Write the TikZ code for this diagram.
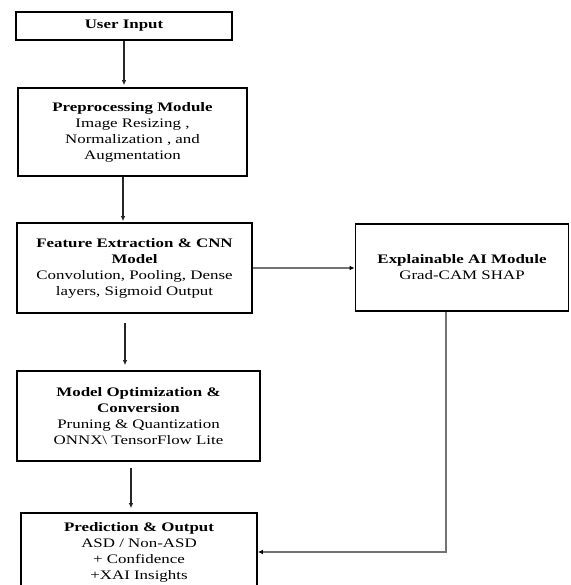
\documentclass[tikz,border=0pt]{standalone}
\usepackage{fontspec}
\setmainfont{Liberation Serif}[FakeStretch=1.3]
\usetikzlibrary{arrows.meta,calc}
\begin{document}
\begin{tikzpicture}[x=1pt,y=-1pt,
  box/.style={draw=black, line width=1.6pt, inner sep=0pt, align=center, font=\fontsize{13}{16}\selectfont},
  arr/.style={draw=black!85, line width=1.1pt, -{Latex[length=5pt,width=4.5pt]}},
  garr/.style={draw=black!55, line width=1.1pt, -{Latex[length=5pt,width=4.5pt,fill=black,color=black]}}]
\useasboundingbox (0,0) rectangle (570,585);
\clip (0,0) rectangle (570,585);
\fill[white] (0,0) rectangle (570,585);
\node[box, minimum width=216pt, minimum height=28pt] (u) at (124,26) {\textbf{User Input}};
\node[box, minimum width=229pt, minimum height=88pt] (p) at (132.5,132) {\textbf{Preprocessing Module}\\Image Resizing ,\\Normalization , and\\Augmentation};
\node[box, minimum width=235pt, minimum height=90pt] (f) at (134.5,268) {\textbf{Feature Extraction \& CNN}\\\textbf{Model}\\Convolution, Pooling, Dense\\layers, Sigmoid Output};
\node[box, minimum width=213pt, minimum height=87pt] (x) at (462,267.5) {\textbf{Explainable AI Module}\\Grad-CAM SHAP};
\node[box, minimum width=243pt, minimum height=90pt] (m) at (138.5,416) {\textbf{Model Optimization \&}\\\textbf{Conversion}\\Pruning \& Quantization\\ONNX\textbackslash{} TensorFlow Lite};
\node[box, minimum width=236pt, minimum height=78pt] (o) at (139,552) {\textbf{Prediction \& Output}\\ASD / Non-ASD\\+ Confidence\\+XAI Insights};
\draw[arr, shorten >=2pt] (u.south) -- (u.south |- p.north);
\draw[arr, shorten >=1pt] ($(p.south)+(-9.5,0)$) -- ($(f.north)+(-11.5,0)$);
\draw[arr, shorten <=9pt, shorten >=5pt] ($(f.south)+(-9.5,0)$) -- ($(m.north)+(-13.5,0)$);
\draw[arr, shorten <=6pt, shorten >=4pt] ($(m.south)+(-7.5,0)$) -- ($(o.north)+(-8,0)$);
\draw[garr] (f.east) -- (f.east -| x.west);
\draw[garr] ($(x.south)+(-16,0)$) |- (o.east);
\end{tikzpicture}
\end{document}
